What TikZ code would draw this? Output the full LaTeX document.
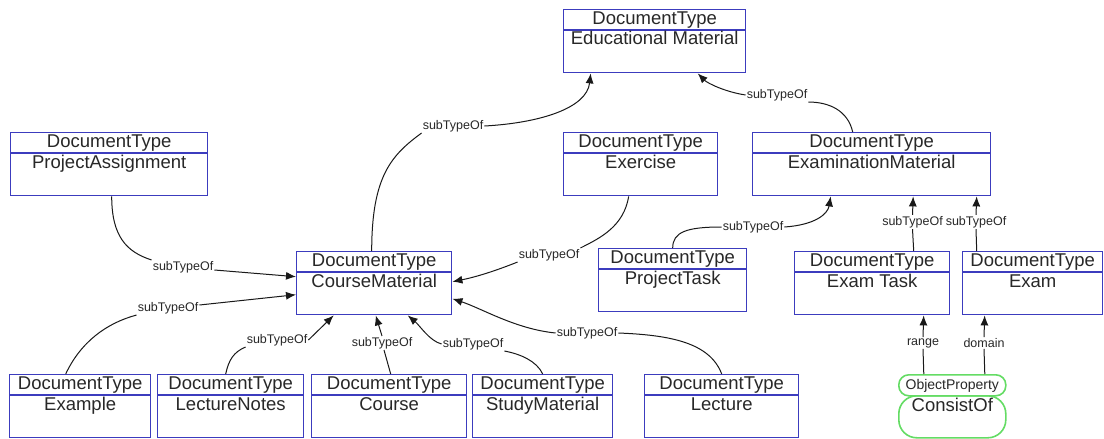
\documentclass[tikz,border=0pt]{standalone}
\usepackage{fontspec}
\setmainfont{Liberation Sans}
\usetikzlibrary{arrows.meta}
\definecolor{boxblue}{RGB}{60,60,190}
\definecolor{opgreen}{RGB}{100,220,100}
\definecolor{textc}{RGB}{40,40,40}
\definecolor{linec}{RGB}{25,25,25}
\newcommand{\bigf}{\fontsize{18.5}{20}\selectfont}
\newcommand{\smallf}{\fontsize{12.5}{14}\selectfont}
\newcommand{\opf}{\fontsize{14}{16}\selectfont}
\tikzset{
  dbox/.style={draw=boxblue, line width=1.4pt, inner sep=0pt, fill=white},
  dbline/.style={draw=boxblue, line width=1.4pt},
  bigt/.style={font=\bigf, anchor=base, inner sep=0pt, text=textc},
  lab/.style={font=\smallf, inner sep=1pt, text=textc},
  edge/.style={draw=linec, line width=1pt},
  arr/.style={draw=linec, line width=1pt, -{Latex[length=10pt,width=8pt]}},
  opbox/.style={draw=opgreen, line width=1.6pt, inner sep=0pt, anchor=north west},
}
\newcommand{\dtbox}[6]{%
  \node[dbox, minimum width={(#4)-(#2)}, minimum height={(#5)-(#3)}, anchor=north west] (#1) at (#2,#3) {};
  \draw[dbline] ([yshift=-21pt]#1.north west) -- ([yshift=-21pt]#1.north east);
  \node[bigt] at ([yshift=-15pt]#1.north) {DocumentType};
  \node[bigt] at ([yshift=-36pt]#1.north) {#6};
}
\begin{document}
\begin{tikzpicture}[x=1pt,y=-1pt]
\fill[white] (0,0) rectangle (1104,439);
\useasboundingbox (0,0) rectangle (1104,439);

% boxes
\dtbox{edu}{563}{9}{745}{72}{Educational Material}
\dtbox{pa}{10}{132}{207}{195}{ProjectAssignment}
\dtbox{ex}{563}{132}{717}{195}{Exercise}
\dtbox{exm}{752}{132}{990}{195}{ExaminationMaterial}
\dtbox{cm}{296}{251}{451}{314}{CourseMaterial}
\dtbox{pt}{598}{248}{746}{311}{ProjectTask}
\dtbox{et}{794}{251}{949}{314}{Exam Task}
\dtbox{exam}{962}{251}{1102}{314}{Exam}
\dtbox{exa}{9}{374}{150}{437}{Example}
\dtbox{ln}{157}{374}{303}{437}{LectureNotes}
\draw[dbline, line width=2.2pt] ([yshift=-21pt]ln.north west) -- ([yshift=-21pt]ln.north east);
\dtbox{co}{311}{374}{466}{437}{Course}
\dtbox{sm}{472}{374}{612}{437}{StudyMaterial}
\dtbox{le}{644}{374}{798}{437}{Lecture}

% object property
\node[opbox, minimum width=107pt, minimum height=21pt, rounded corners=10pt] (op) at (898,374) {};
\node[opbox, minimum width=107pt, minimum height=42pt, rounded corners=18pt] (cons) at (898,395) {};
\node[font=\opf, anchor=base, inner sep=0pt, text=textc] at ([yshift=-15pt]op.north) {ObjectProperty};
\node[bigt] at ([yshift=-16pt]cons.north) {ConsistOf};

% labels
\node[lab] (l1) at (453,126) {subTypeOf};
\node[lab] (l2) at (183,267) {subTypeOf};
\node[lab] (l3) at (168,308) {subTypeOf};
\node[lab] (l4) at (277,340) {subTypeOf};
\node[lab] (l5) at (382,343) {subTypeOf};
\node[lab] (l6) at (473,344) {subTypeOf};
\node[lab] (l7) at (587,333) {subTypeOf};
\node[lab] (l8) at (549,255) {subTypeOf};
\node[lab] (l9) at (753,227) {subTypeOf};
\node[lab] (l10) at (912.5,222) {subTypeOf};
\node[lab] (l11) at (976,222) {subTypeOf};
\node[lab] (l12) at (777,95) {subTypeOf};
\node[lab] (lr) at (923,343) {range};
\node[lab] (ld) at (984,343) {domain};

% 1 CourseMaterial -> Educational Material
\draw[edge] ([xshift=-2.5pt]cm.north) .. controls +(0,-75) and +(-30,22) .. (l1.south west);
\draw[arr] (l1.east) .. controls +(55,-3) and +(-4,35) .. ([xshift=-64pt]edu.south);
% 2 ProjectAssignment -> CourseMaterial
\draw[edge] ([xshift=2.5pt]pa.south) .. controls +(0,40) and +(-25,-8) .. (l2.north west);
\draw[arr] ([yshift=-3pt]l2.east) -- ([yshift=6.5pt]cm.west);
% 3 Example -> CourseMaterial
\draw[edge] ([xshift=-14.5pt]exa.north) .. controls +(15,-32) and +(-30,8) .. (l3.south west);
\draw[arr] ([yshift=3pt]l3.east) -- ([yshift=-11.5pt]cm.west);
% 4 LectureNotes -> CourseMaterial
\draw[edge] ([xshift=-5pt]ln.north) .. controls +(3,-14) and +(-12,5) .. (l4.south west);
\draw[arr] (l4.east) -- ([xshift=-40.5pt]cm.south);
% 5 Course -> CourseMaterial
\draw[edge] ([xshift=1.5pt]co.north) -- ([xshift=2pt]l5.south);
\draw[arr] (l5.north) -- ([xshift=1.5pt]cm.south);
% 6 StudyMaterial -> CourseMaterial
\draw[edge] (sm.north) .. controls +(-6,-13) and +(16,3) .. (l6.south east);
\draw[arr] (l6.west) .. controls +(-12,-3) and +(12,10) .. ([xshift=33.5pt]cm.south);
% 7 Lecture -> CourseMaterial
\draw[edge] (le.north) .. controls +(-12,-32) and +(50,2) .. (l7.east);
\draw[arr] (l7.west) .. controls +(-40,-4) and +(30,10) .. ([yshift=-15.5pt]cm.east);
% 8 Exercise -> CourseMaterial
\draw[edge] ([xshift=-12pt]ex.south) .. controls +(-5,30) and +(20,-10) .. (l8.north east);
\draw[arr] (l8.south west) .. controls +(-20,8) and +(25,-5) .. ([yshift=1.5pt]cm.east);
% 9 ProjectTask -> ExaminationMaterial
\draw[edge] (pt.north) .. controls +(0,-16) and +(-35,0) .. (l9.west);
\draw[arr] (l9.east) .. controls +(30,-2) and +(-3,18) .. ([xshift=-41pt]exm.south);
% 10 Exam Task -> ExaminationMaterial
\draw[edge] ([xshift=41.5pt]et.north) -- (l10.south);
\draw[arr] (l10.north) -- ([xshift=41.5pt]exm.south);
% 11 Exam -> ExaminationMaterial
\draw[edge] ([xshift=-56pt]exam.north) -- (l11.south);
\draw[arr] (l11.north) -- ([xshift=105pt]exm.south);
% 12 ExaminationMaterial -> Educational Material
\draw[edge] ([xshift=-19pt]exm.north) .. controls +(-5,-22) and +(20,0) .. (l12.south east);
\draw[arr] (l12.west) .. controls +(-20,-3) and +(10,10) .. ([xshift=43pt]edu.south);
% 13 range / domain
\draw[edge] ([xshift=-28.5pt]op.north) -- (lr.south);
\draw[arr] (lr.north) -- ([xshift=51.5pt]et.south);
\draw[edge] ([xshift=32.5pt]op.north) -- (ld.south);
\draw[arr] (ld.north) -- ([xshift=-48pt]exam.south);
\end{tikzpicture}
\end{document}
